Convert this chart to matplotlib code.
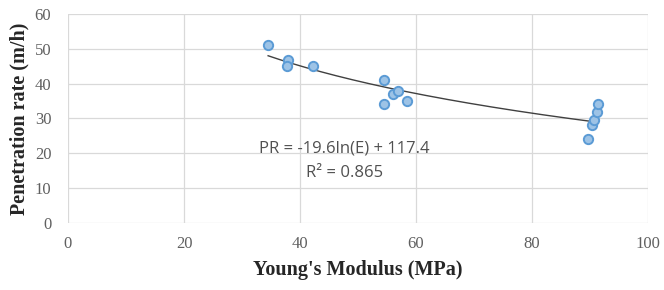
import numpy as np
import matplotlib
matplotlib.use("Agg")
import matplotlib.pyplot as plt

E = [34.5, 37.9, 37.8, 42.2, 54.5, 54.5, 56.0, 56.9, 58.4, 89.7, 90.3, 90.7, 91.2, 91.4]
PR = [51.0, 46.7, 45.0, 45.0, 41.0, 34.2, 37.0, 38.0, 35.0, 24.0, 28.2, 29.6, 31.9, 34.2]
coef_a = -19.6
coef_b = 117.4
r2 = 0.865
xticks = [0, 20, 40, 60, 80, 100]
yticks = [0, 10, 20, 30, 40, 50, 60]

fig = plt.figure(figsize=(6.64, 2.90), dpi=100)
ax = fig.add_axes([0.1024, 0.231, 0.8736, 0.721])
ax.set_xlim(0, 100)
ax.set_ylim(0, 60)
ax.set_xticks(xticks)
ax.set_yticks(yticks)
ax.grid(True, color="#D9D9D9", linewidth=0.9)
ax.set_axisbelow(True)
for s in ax.spines.values():
    s.set_visible(False)
ax.tick_params(length=0, labelsize=12, labelcolor="#606060")
ax.tick_params(axis="y", pad=12)
ax.tick_params(axis="x", pad=9)
for lab in ax.get_xticklabels() + ax.get_yticklabels():
    lab.set_family("Liberation Serif")

xs = np.linspace(min(E), max(E), 200)
ax.plot(xs, coef_a * np.log(xs) + coef_b, color="#404040", linewidth=1.0, zorder=2)
ax.scatter(E, PR, s=45, facecolor="#9DC3E6", edgecolor="#5B9BD5", linewidth=1.4, zorder=3)

ax.text(47.6, 21.5, "PR = -19.6ln(E) + 117.4", ha="center", va="center",
        fontsize=12, color="#505050", family="Open Sans")
ax.text(47.6, 14.3, "R² = 0.865", ha="center", va="center",
        fontsize=12, color="#505050", family="Open Sans")

ax.set_xlabel("Young's Modulus (MPa)", family="Liberation Serif", fontweight="bold",
              fontsize=14.5, color="#262626", labelpad=6)
ax.set_ylabel("Penetration rate (m/h)", family="Liberation Serif", fontweight="bold",
              fontsize=14.5, color="#262626", labelpad=4)

fig.savefig("out.png", dpi=100, facecolor="white")
